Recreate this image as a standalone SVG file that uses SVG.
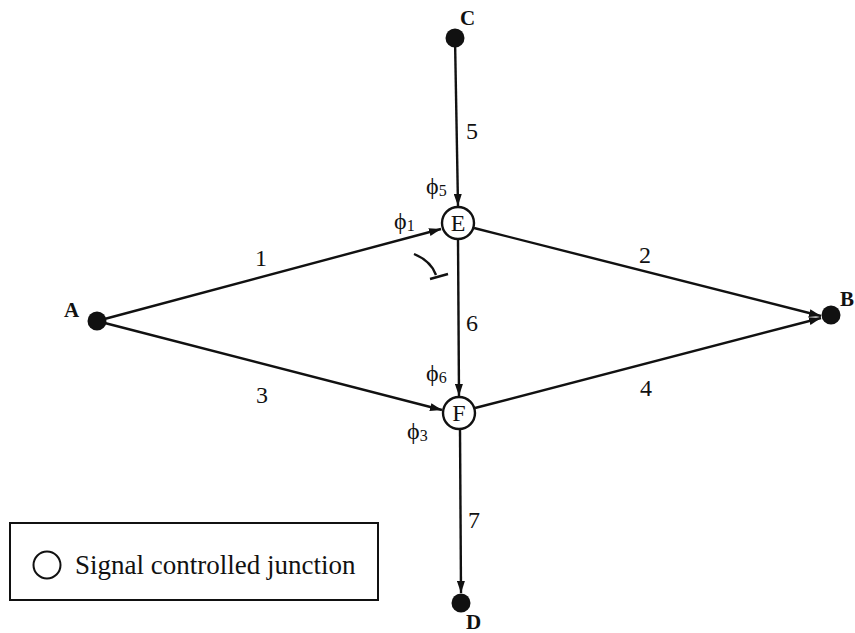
<svg xmlns="http://www.w3.org/2000/svg" width="855" height="633" viewBox="0 0 855 633" font-family="'Liberation Serif', 'DejaVu Serif', serif">
<style>
text{font-family:'Liberation Serif','DejaVu Serif',serif;fill:#111}
.lbl{font-size:24px;text-anchor:middle}
.phi{font-size:24px}
.nm{font-size:21px;font-weight:bold}
.edge{stroke:#111;stroke-width:2.4;fill:none}
.dot{fill:#111}
.jn{fill:#fff;stroke:#111;stroke-width:2.4}
.sub{font-size:16px}
</style>
<defs>
<marker id="ar" viewBox="0 0 12 8" refX="12" refY="4" markerWidth="12" markerHeight="8" markerUnits="userSpaceOnUse" orient="auto">
<path d="M0,0 L12,4 L0,8 Z" fill="#111"/>
</marker>
</defs>
<rect width="855" height="633" fill="#fff"/>
<g id="connectors">
<line class="edge" x1="455" y1="38" x2="458" y2="206" marker-end="url(#ar)"/>
<line class="edge" x1="97" y1="321" x2="441" y2="229" marker-end="url(#ar)"/>
<line class="edge" x1="474" y1="228" x2="821" y2="316" marker-end="url(#ar)"/>
<line class="edge" x1="458" y1="239" x2="459" y2="396" marker-end="url(#ar)"/>
<line class="edge" x1="97" y1="321" x2="442" y2="410" marker-end="url(#ar)"/>
<line class="edge" x1="475" y1="408" x2="821" y2="318" marker-end="url(#ar)"/>
<line class="edge" x1="460" y1="429" x2="461" y2="593" marker-end="url(#ar)"/>
<path class="edge" d="M414,254 Q431,261 436,275"/>
<line class="edge" x1="430" y1="279" x2="448" y2="274"/>
</g>
<g id="edge-labels">
<text class="lbl" x="261" y="266">1</text>
<text class="lbl" x="645" y="263">2</text>
<text class="lbl" x="262" y="403">3</text>
<text class="lbl" x="646" y="396">4</text>
<text class="lbl" x="472" y="139">5</text>
<text class="lbl" x="472" y="331">6</text>
<text class="lbl" x="474" y="528">7</text>
<text class="phi" x="426" y="194">ϕ<tspan class="sub" dy="2">5</tspan></text>
<text class="phi" x="394" y="229">ϕ<tspan class="sub" dy="2">1</tspan></text>
<text class="phi" x="426" y="381">ϕ<tspan class="sub" dy="2">6</tspan></text>
<text class="phi" x="407" y="439">ϕ<tspan class="sub" dy="2">3</tspan></text>
</g>
<g id="node-A"><circle class="dot" cx="97" cy="321" r="9.5"/><text class="nm" x="64" y="317">A</text></g>
<g id="node-B"><circle class="dot" cx="831" cy="315" r="9.5"/><text class="nm" x="840" y="306">B</text></g>
<g id="node-C"><circle class="dot" cx="455" cy="38" r="9.5"/><text class="nm" x="460" y="25">C</text></g>
<g id="node-D"><circle class="dot" cx="461" cy="603" r="9.5"/><text class="nm" x="466" y="629">D</text></g>
<g id="node-E"><circle class="jn" cx="458" cy="223" r="16"/><text class="lbl" x="458" y="231">E</text></g>
<g id="node-F"><circle class="jn" cx="459" cy="413" r="16"/><text class="lbl" x="459" y="421">F</text></g>
<g id="legend">
<rect x="10" y="523" width="368" height="77" fill="none" stroke="#111" stroke-width="2"/>
<circle cx="47" cy="565" r="13.5" fill="none" stroke="#111" stroke-width="2"/>
<text x="75" y="574" font-size="27">Signal controlled junction</text>
</g>
</svg>
